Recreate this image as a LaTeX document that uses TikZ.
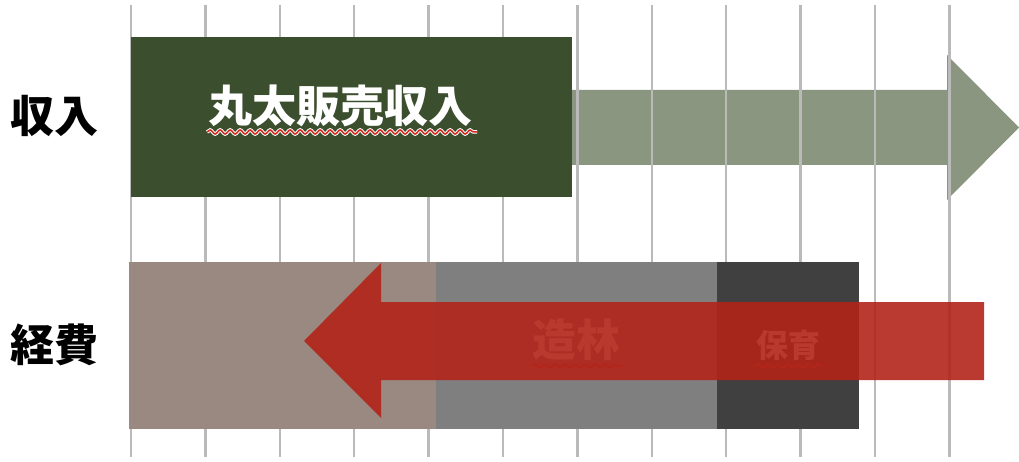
\documentclass[tikz,border=0pt]{standalone}
\usepackage{fontspec}
\newfontfamily\cjk{Noto Sans CJK JP}
\usetikzlibrary{decorations.pathmorphing}
\definecolor{dkgreen}{RGB}{59,79,46}
\definecolor{ltgreen}{RGB}{138,150,128}
\definecolor{brownbox}{RGB}{153,137,128}
\definecolor{graybox}{RGB}{127,127,127}
\definecolor{dkgraybox}{RGB}{64,64,64}
\definecolor{gridgray}{RGB}{186,186,186}
\definecolor{redarrow}{RGB}{178,36,25}
\definecolor{squiggle}{RGB}{215,40,30}
\begin{document}
\begin{tikzpicture}[x=1pt,y=-1pt,
  box/.style={inner sep=0pt, outer sep=0pt, anchor=north west, draw=none},
  lbl/.style={font=\cjk\bfseries\fontsize{44}{48}\selectfont, text=black, inner sep=0pt},
  intext/.style={font=\cjk\bfseries\fontsize{#1}{#1}\selectfont, text=white, inner sep=0pt},
  wave/.style={draw=squiggle, line width=1.5pt, decorate, decoration={snake, amplitude=2pt, segment length=10pt}},
  gridline/.style={draw=gridgray, line width=2.4pt}]
\useasboundingbox (0,0) rectangle (1019,462);
% light income arrow (behind grid)
\fill[ltgreen] (565,90) -- (947,90) -- (947,55) -- (1019,127.5) -- (947,200) -- (947,165) -- (565,165) -- cycle;
% grid
\foreach \k in {0,...,11} {
  \coordinate (gt\k) at ({131+74.4*\k},5);
  \coordinate (gb\k) at ({131+74.4*\k},457);
  \draw[gridline] (gt\k) -- (gb\k);
}
% income box
\node[box, fill=dkgreen, minimum width=441pt, minimum height=160pt] (inc) at (131,37) {};
\node[intext=44] (inct) at (340,106) {丸太販売収入};
\draw[draw=white, line width=3.5pt, decorate, decoration={snake, amplitude=2pt, segment length=10pt}] (207,132) -- (477,132);
\draw[wave] (207,132) -- (477,132);
% cost boxes
\node[box, fill=brownbox, minimum width=307pt, minimum height=167pt] (c1) at (129,262) {};
\node[box, fill=graybox, minimum width=281pt, minimum height=167pt] (c2) at (436,262) {};
\node[box, fill=dkgraybox, minimum width=142pt, minimum height=167pt] (c3) at (717,262) {};
\node[intext=44] (c2t) at (576,340) {造林};
\draw[wave] (532,366) -- (622,366);
\node[intext=32] (c3t) at (788,345) {保育};
\draw[wave] (755,366) -- (822,366);
% cost arrow
\fill[redarrow, opacity=0.9] (984,302) -- (381,302) -- (381,263) -- (304,341) -- (381,418) -- (381,380) -- (984,380) -- cycle;
% row labels
\node[lbl] (l1) at (54,116) {収入};
\node[lbl] (l2) at (54,345) {経費};
\end{tikzpicture}
\end{document}
